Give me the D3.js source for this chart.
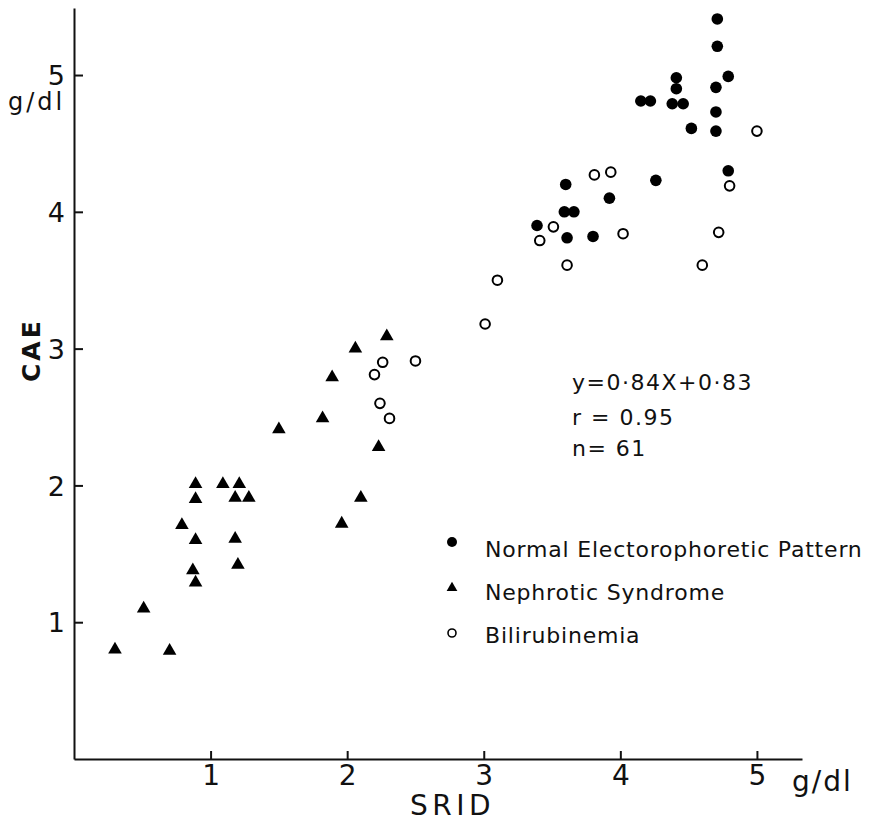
<!DOCTYPE html>
<html>
<head>
<meta charset="utf-8">
<script src="https://cdn.jsdelivr.net/npm/d3@7"></script>
<style>
  body { margin: 0; background: #fff; }
  text { font-family: "DejaVu Sans", sans-serif; fill: #111; }
</style>
</head>
<body>
<div id="chart"></div>
<script>
// SRID (x) vs CAE (y), g/dl
const normalPoints = [
  [4.71, 5.41], [4.71, 5.21], [4.79, 4.99], [4.41, 4.98], [4.41, 4.9],
  [4.7, 4.91], [4.15, 4.81], [4.22, 4.81], [4.38, 4.79], [4.46, 4.79],
  [4.7, 4.73], [4.52, 4.61], [4.7, 4.59], [4.79, 4.3], [4.26, 4.23],
  [3.6, 4.2], [3.92, 4.1], [3.59, 4.0], [3.66, 4.0], [3.39, 3.9],
  [3.61, 3.81], [3.8, 3.82],
];
const nephroticPoints = [
  [2.29, 3.09], [2.06, 3.0], [1.89, 2.79], [1.82, 2.49], [1.5, 2.41],
  [2.23, 2.28], [2.1, 1.91], [1.96, 1.72], [0.89, 2.01], [1.09, 2.01],
  [1.21, 2.01], [0.89, 1.9], [1.18, 1.91], [1.28, 1.91], [0.79, 1.71],
  [0.89, 1.6], [1.18, 1.61], [0.87, 1.38], [1.2, 1.42], [0.89, 1.29],
  [0.51, 1.1], [0.3, 0.8], [0.7, 0.79],
];
const bilirubinPoints = [
  [5.0, 4.59], [3.81, 4.27], [3.93, 4.29], [4.8, 4.19], [3.51, 3.89],
  [3.41, 3.79], [4.02, 3.84], [4.72, 3.85], [3.61, 3.61], [4.6, 3.61],
  [3.1, 3.5], [3.01, 3.18], [2.26, 2.9], [2.5, 2.91], [2.2, 2.81],
  [2.24, 2.6], [2.31, 2.49],
];
const xTicks = [1, 2, 3, 4, 5];
const yTicks = [1, 2, 3, 4, 5];
const legendLabels = [
  "Normal Electorophoretic Pattern",
  "Nephrotic Syndrome",
  "Bilirubinemia",
];
const statLines = ["y=0·84X+0·83", "r = 0.95", "n= 61"];

const width = 879;
const height = 824;

const svg = d3
  .select("#chart")
  .append("svg")
  .attr("width", width)
  .attr("height", height);

const xScale = d3.scaleLinear().domain([0, 5.33]).range([74, 802]);
const yScale = d3.scaleLinear().domain([0, 5.49]).range([759, 8]);

const xAxis = svg
  .append("g")
  .attr("transform", `translate(0, ${yScale(0)})`)
  .call(
    d3.axisBottom(xScale).tickValues(xTicks).tickFormat(d3.format("d"))
      .tickSizeInner(-8).tickSizeOuter(0).tickPadding(6)
  );

const yAxis = svg
  .append("g")
  .attr("transform", `translate(${xScale(0)}, 0)`)
  .call(
    d3.axisLeft(yScale).tickValues(yTicks).tickFormat(d3.format("d"))
      .tickSizeInner(-9).tickSizeOuter(0).tickPadding(9)
  );

[xAxis, yAxis].forEach((g) => {
  g.selectAll("path, line").attr("stroke", "#111").attr("stroke-width", 2);
  g.selectAll("text").style("font-size", "27px").style("font-family", "DejaVu Sans").attr("fill", "#111");
});
xAxis.selectAll("text").style("font-size", "28px").attr("dy", "0.71em");
yAxis.selectAll("text").attr("dy", "0.36em");

// unit labels
svg.append("text").attr("x", 8).attr("y", 110).style("font-size", "24px").attr("letter-spacing", 3).text("g/dl");
svg.append("text").attr("x", 792).attr("y", 791).style("font-size", "28px").attr("letter-spacing", 2).text("g/dl");

// axis titles
svg
  .append("text")
  .attr("x", 410)
  .attr("y", 815)
  .style("font-size", "28px")
  .attr("letter-spacing", 4.5)
  .text("SRID");

svg
  .append("text")
  .attr("transform", "translate(40, 382) rotate(-90)")
  .style("font-size", "25px")
  .style("font-weight", "bold")
  .attr("letter-spacing", 3)
  .text("CAE");

// points
const plot = svg.append("g");

plot
  .selectAll(".normal")
  .data(normalPoints)
  .join("circle")
  .attr("class", "normal")
  .attr("cx", (d) => xScale(d[0]))
  .attr("cy", (d) => yScale(d[1]))
  .attr("r", 5.8)
  .attr("fill", "#000");

plot
  .selectAll(".bili")
  .data(bilirubinPoints)
  .join("circle")
  .attr("class", "bili")
  .attr("cx", (d) => xScale(d[0]))
  .attr("cy", (d) => yScale(d[1]))
  .attr("r", 4.8)
  .attr("fill", "#fff")
  .attr("stroke", "#000")
  .attr("stroke-width", 2);

const triangle = d3.symbol().type(d3.symbolTriangle).size(80);
plot
  .selectAll(".nephro")
  .data(nephroticPoints)
  .join("path")
  .attr("class", "nephro")
  .attr("transform", (d) => `translate(${xScale(d[0])}, ${yScale(d[1])})`)
  .attr("d", triangle)
  .attr("fill", "#000");

// regression stats
svg
  .selectAll(".stat")
  .data(statLines)
  .join("text")
  .attr("class", "stat")
  .attr("x", 572)
  .attr("y", (d, i) => [390, 425, 456][i])
  .style("font-size", "22px")
  .attr("letter-spacing", 1.5)
  .text((d) => d);

// legend
const legend = svg.append("g");
const legendY = [557, 600, 643];
legend
  .selectAll("text")
  .data(legendLabels)
  .join("text")
  .attr("x", 485)
  .attr("y", (d, i) => legendY[i])
  .style("font-size", "22px")
  .attr("letter-spacing", 0.8)
  .text((d) => d);

legend.append("circle").attr("cx", 452).attr("cy", legendY[0] - 15).attr("r", 5).attr("fill", "#000");
legend
  .append("path")
  .attr("transform", `translate(452, ${legendY[1] - 12})`)
  .attr("d", d3.symbol().type(d3.symbolTriangle).size(50))
  .attr("fill", "#000");
legend
  .append("circle")
  .attr("cx", 452)
  .attr("cy", legendY[2] - 10)
  .attr("r", 4)
  .attr("fill", "none")
  .attr("stroke", "#000")
  .attr("stroke-width", 1.6);
</script>
</body>
</html>
